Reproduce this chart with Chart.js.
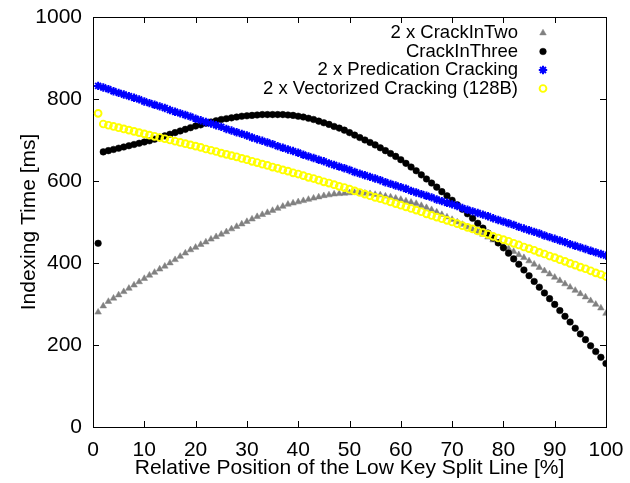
<!DOCTYPE html>
<html>
<head>
<meta charset="utf-8">
<title>Indexing Time</title>
<script src="https://cdn.jsdelivr.net/npm/chart.js@4.4.0/dist/chart.umd.min.js"></script>
<style>
  html, body { margin: 0; padding: 0; background: #fff; }
  canvas { display: block; }
</style>
</head>
<body>
<canvas id="indexing" width="630" height="483"></canvas>
<script>
// split line position in percent, one measurement per step
const splitPositions = Array.from({ length: 100 }, (_, i) => i + 1);

// indexing time in ms for every split position
const crackInTwo = [
  280, 295, 306, 314, 322, 330, 338, 346, 354, 362,
  370, 377, 385, 392, 400, 408, 416, 424, 432, 438,
  445, 451, 458, 464, 470, 476, 483, 489, 495, 501,
  507, 513, 518, 523, 528, 533, 538, 543, 546, 549,
  552, 555, 558, 561, 564, 566, 568, 569, 570, 571,
  572, 571, 570, 569, 567, 566, 563, 561, 558, 555,
  551, 548, 545, 540, 535, 530, 524, 518, 512, 506,
  500, 494, 488, 482, 476, 470, 463, 456, 449, 442,
  435, 428, 420, 413, 405, 397, 389, 381, 373, 365,
  357, 349, 341, 333, 325, 317, 308, 299, 290, 277
];
const crackInThree = [
  448, 671, 674, 677, 680, 683, 686, 689, 692, 695,
  698, 702, 706, 710, 714, 718, 722, 726, 730, 734,
  737, 741, 744, 747, 750, 752, 754, 756, 758, 759,
  760, 761, 762, 762, 762, 762, 762, 761, 760, 758,
  756, 753, 750, 746, 742, 738, 733, 729, 724, 718,
  712, 706, 700, 694, 688, 681, 674, 667, 660, 652,
  643, 634, 625, 615, 605, 595, 585, 574, 564, 553,
  542, 531, 520, 509, 497, 485, 473, 461, 449, 437,
  424, 410, 397, 383, 369, 355, 341, 327, 313, 299,
  284, 270, 256, 241, 227, 213, 198, 184, 170, 155
];
const predication = [
  832, 828, 824, 819, 815, 811, 807, 803, 799, 794,
  790, 786, 782, 778, 773, 769, 765, 761, 757, 752,
  748, 744, 740, 736, 732, 727, 723, 719, 715, 711,
  706, 702, 698, 694, 690, 685, 681, 677, 673, 669,
  664, 660, 656, 652, 648, 643, 639, 635, 631, 627,
  622, 618, 614, 610, 606, 602, 597, 593, 589, 585,
  581, 576, 572, 568, 564, 560, 555, 551, 547, 543,
  539, 534, 530, 526, 522, 518, 514, 509, 505, 501,
  497, 493, 488, 484, 480, 476, 472, 467, 463, 459,
  455, 451, 446, 442, 438, 434, 430, 426, 422, 418
];
const vectorized = [
  765, 739, 736, 733, 730, 727, 724, 721, 718, 715,
  712, 709, 706, 703, 700, 697, 694, 691, 688, 685,
  682, 678, 675, 672, 668, 665, 662, 659, 655, 652,
  648, 645, 641, 638, 634, 631, 627, 624, 620, 617,
  613, 609, 606, 602, 598, 595, 591, 587, 584, 580,
  576, 572, 568, 564, 560, 557, 553, 549, 545, 541,
  537, 533, 529, 525, 520, 516, 512, 508, 504, 500,
  496, 491, 487, 483, 478, 474, 470, 465, 461, 457,
  453, 448, 444, 439, 435, 431, 426, 422, 417, 413,
  408, 404, 399, 395, 390, 386, 381, 376, 372, 367
];

const xTicks = [0, 10, 20, 30, 40, 50, 60, 70, 80, 90, 100];
const yTicks = [0, 200, 400, 600, 800, 1000];

const FONT = 'Liberation Sans, Arial, Helvetica, sans-serif';

function points(ys) {
  return splitPositions.map((x, i) => ({ x: x, y: ys[i] }));
}

// gnuplot-like border with inward ticks on all sides, plus the key
const frameAndKey = {
  id: 'frameAndKey',
  beforeDatasetsDraw(chart) {
    const { ctx, chartArea: a, scales: { x, y } } = chart;
    ctx.save();
    ctx.strokeStyle = '#000';
    ctx.lineWidth = 1;
    ctx.beginPath();
    xTicks.forEach(v => {
      const px = Math.round(x.getPixelForValue(v)) + 0.5;
      ctx.moveTo(px, a.bottom); ctx.lineTo(px, a.bottom - 6);
      ctx.moveTo(px, a.top); ctx.lineTo(px, a.top + 6);
    });
    yTicks.forEach(v => {
      const py = Math.round(y.getPixelForValue(v)) + 0.5;
      ctx.moveTo(a.left, py); ctx.lineTo(a.left + 6, py);
      ctx.moveTo(a.right, py); ctx.lineTo(a.right - 6, py);
    });
    ctx.stroke();
    ctx.strokeRect(Math.round(a.left) + 0.5, Math.round(a.top) + 0.5,
      Math.round(a.right - a.left), Math.round(a.bottom - a.top));
    ctx.restore();
  },
  afterDatasetsDraw(chart) {
    const { ctx, chartArea: a } = chart;
    const textRight = a.right - 88;
    const markX = a.right - 63;
    ctx.save();
    ctx.font = '18.5px ' + FONT;
    ctx.textAlign = 'right';
    ctx.textBaseline = 'middle';
    chart.data.datasets.forEach((ds, i) => {
      const rowY = a.top + 16 + i * 18.5;
      ctx.fillStyle = '#000';
      ctx.fillText(ds.label, textRight, rowY);
      ctx.fillStyle = ds.backgroundColor;
      ctx.strokeStyle = ds.borderColor;
      ctx.lineWidth = ds.borderWidth;
      Chart.helpers.drawPoint(ctx, {
        pointStyle: ds.pointStyle,
        radius: ds.pointRadius,
        borderWidth: ds.borderWidth,
        rotation: 0
      }, markX, rowY);
    });
    ctx.restore();
  }
};

new Chart(document.getElementById('indexing'), {
  type: 'scatter',
  data: {
    datasets: [
      {
        label: '2 x CrackInTwo',
        data: points(crackInTwo),
        pointStyle: 'triangle',
        pointRadius: 3.8,
        backgroundColor: '#808080',
        borderColor: '#808080',
        borderWidth: 0.5,
        order: 3
      },
      {
        label: 'CrackInThree',
        data: points(crackInThree),
        pointStyle: 'circle',
        pointRadius: 3.3,
        backgroundColor: '#000000',
        borderColor: '#000000',
        borderWidth: 0.5,
        order: 2
      },
      {
        label: '2 x Predication Cracking',
        data: points(predication),
        pointStyle: 'star',
        pointRadius: 4.2,
        backgroundColor: '#0000ff',
        borderColor: '#0000ff',
        borderWidth: 2,
        order: 1
      },
      {
        label: '2 x Vectorized Cracking (128B)',
        data: points(vectorized),
        pointStyle: 'circle',
        pointRadius: 3.4,
        backgroundColor: 'rgba(255,255,255,0)',
        borderColor: '#ffff00',
        borderWidth: 1.9,
        order: 0
      }
    ]
  },
  options: {
    responsive: false,
    animation: false,
    devicePixelRatio: 1,
    layout: { padding: { left: 0, right: 24, top: 17, bottom: 0 } },
    plugins: {
      legend: { display: false },
      tooltip: { enabled: false }
    },
    scales: {
      x: {
        type: 'linear',
        min: 0,
        max: 100,
        afterFit(scale) {
          scale.height = 56;
          scale.paddingLeft = 0;
          scale.paddingRight = 0;
        },
        afterBuildTicks(scale) { scale.ticks = xTicks.map(v => ({ value: v })); },
        grid: { display: false, drawTicks: false },
        border: { display: false },
        ticks: {
          color: '#000', padding: 11, maxRotation: 0,
          font: { family: FONT, size: 21 },
          callback: v => String(v)
        },
        title: {
          display: true,
          text: 'Relative Position of the Low Key Split Line [%]',
          color: '#000',
          font: { family: FONT, size: 21 },
          padding: { top: 0, bottom: 2 }
        }
      },
      y: {
        type: 'linear',
        min: 0,
        max: 1000,
        afterFit(scale) {
          scale.width = 93;
          scale.paddingTop = 0;
          scale.paddingBottom = 0;
        },
        afterBuildTicks(scale) { scale.ticks = yTicks.map(v => ({ value: v })); },
        grid: { display: false, drawTicks: false },
        border: { display: false },
        ticks: {
          color: '#000', padding: 11,
          font: { family: FONT, size: 21 },
          callback: v => String(v)
        },
        title: {
          display: true,
          text: 'Indexing Time [ms]',
          color: '#000',
          font: { family: FONT, size: 21 },
          padding: { top: 17, bottom: 0 }
        }
      }
    }
  },
  plugins: [frameAndKey]
});
</script>
</body>
</html>
